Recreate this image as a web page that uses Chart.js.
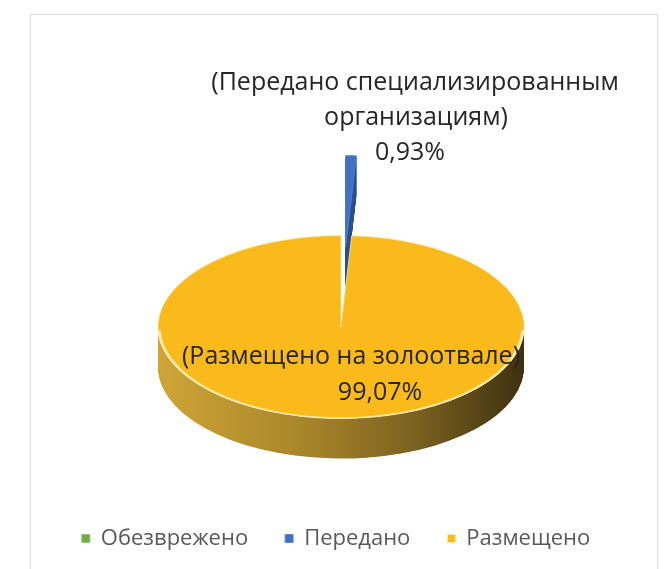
<!DOCTYPE html>
<html>
<head>
<meta charset="utf-8">
<script src="https://cdn.jsdelivr.net/npm/chart.js@4.4.0/dist/chart.umd.min.js"></script>
<style>
  html, body { margin: 0; padding: 0; background: #fff; }
</style>
</head>
<body>
<canvas id="chart1" width="667" height="569"></canvas>
<script>
const categories = ['Обезврежено', 'Передано', 'Размещено'];
const shares = [0, 0.93, 99.07];
const labelNames = [
  [],
  ['(Передано специализированным', 'организациям)'],
  ['(Размещено на золоотвале)']
];

const topColors = ['#70AD47', '#4072C4', '#FBBA1B'];
const rimColors = ['#8BC36A', '#5E88D2', '#FFE9A8'];
const sideColors = ['#4E7F31', '#2A5090', null]; // null -> gold gradient
const explode = [0, 160, 0]; // pulled-out distance along the slice middle

// pie placement on the page (screen px)
const PIE_X = 341, PIE_Y = 327, RADIUS = 183, TILT = 0.5, DEPTH = 40;
const LABEL_FONT = '25px "Open Sans", "Noto Sans", sans-serif';

// label line centres, relative to the pie centre
const labelPos = [
  [],
  [{x: 74, y: -244}, {x: 75, y: -209}, {x: 69, y: -174}],
  [{x: 10, y: 30}, {x: 39, y: 66}]
];

function pctText(v) {
  return v.toFixed(2).replace('.', ',') + '%';
}

let pieCx = 0, pieCy = 0;

const pie3d = {
  id: 'pie3d',
  afterDatasetsUpdate(chart) {
    const meta = chart.getDatasetMeta(0);
    pieCx = meta.data[0].x;
    pieCy = meta.data[0].y;
    // explode slices
    meta.data.forEach((arc, i) => {
      if (!explode[i]) return;
      const mid = (arc.startAngle + arc.endAngle) / 2;
      arc.x += Math.cos(mid) * explode[i];
      arc.y += Math.sin(mid) * explode[i];
    });
  },
  beforeDraw(chart) {
    const ctx = chart.ctx;
    ctx.save();
    ctx.fillStyle = '#fff';
    ctx.fillRect(0, 0, chart.width, chart.height);
    ctx.strokeStyle = '#D9D9D9';
    ctx.lineWidth = 1;
    ctx.strokeRect(30.5, 14.5, 627, 600);
    ctx.restore();
  },
  beforeDatasetsDraw(chart) {
    const ctx = chart.ctx;
    const meta = chart.getDatasetMeta(0);
    ctx.save();
    // squash the flat pie into a tilted disc
    ctx.translate(PIE_X, PIE_Y);
    ctx.scale(1, TILT);
    ctx.translate(-pieCx, -pieCy);

    const shift = pieCx - PIE_X;
    const grad = ctx.createLinearGradient(PIE_X - RADIUS + shift, 0, PIE_X + RADIUS + shift, 0);
    grad.addColorStop(0, '#CFA535');
    grad.addColorStop(0.4, '#A8852A');
    grad.addColorStop(0.7, '#7C6220');
    grad.addColorStop(1, '#3E3110');

    // side walls: stack copies of each slice downwards
    meta.data.forEach((arc, i) => {
      if (!arc.circumference) return;
      ctx.fillStyle = sideColors[i] || grad;
      for (let t = DEPTH; t > 0; t -= 0.5) {
        const yy = arc.y + t / TILT;
        ctx.beginPath();
        ctx.moveTo(arc.x, yy);
        ctx.arc(arc.x, yy, arc.outerRadius, arc.startAngle, arc.endAngle);
        ctx.closePath();
        ctx.fill();
      }
    });
  },
  afterDatasetsDraw(chart) {
    const ctx = chart.ctx;
    const meta = chart.getDatasetMeta(0);
    // light rim on the front edge of the big slice
    const big = meta.data[2];
    ctx.beginPath();
    ctx.arc(big.x, big.y, big.outerRadius - 1, 0.04, Math.PI - 0.04);
    ctx.strokeStyle = '#FFEBAE';
    ctx.lineWidth = 3;
    ctx.stroke();
    ctx.restore();

    // data labels
    ctx.save();
    ctx.font = LABEL_FONT;
    ctx.fillStyle = '#262626';
    ctx.textAlign = 'center';
    ctx.textBaseline = 'middle';
    labelNames.forEach((lines, i) => {
      if (!lines.length) return;
      const all = lines.concat([pctText(shares[i])]);
      all.forEach((txt, j) => {
        const p = labelPos[i][j];
        ctx.fillText(txt, PIE_X + p.x, PIE_Y + p.y);
      });
    });
    ctx.restore();
  }
};

new Chart(document.getElementById('chart1'), {
  type: 'pie',
  data: {
    labels: categories,
    datasets: [{
      data: shares,
      backgroundColor: topColors,
      borderColor: rimColors,
      borderWidth: 1,
      clip: false
    }]
  },
  options: {
    responsive: false,
    animation: false,
    events: [],
    radius: RADIUS,
    layout: { padding: { left: 5, right: 0, top: 0, bottom: 9.5 } },
    plugins: {
      legend: {
        position: 'bottom',
        labels: {
          boxWidth: 8,
          boxHeight: 8,
          padding: 37,
          color: '#595959',
          font: { family: '"Open Sans", "Noto Sans", sans-serif', size: 22 }
        }
      },
      tooltip: { enabled: false }
    }
  },
  plugins: [pie3d]
});
</script>
</body>
</html>
